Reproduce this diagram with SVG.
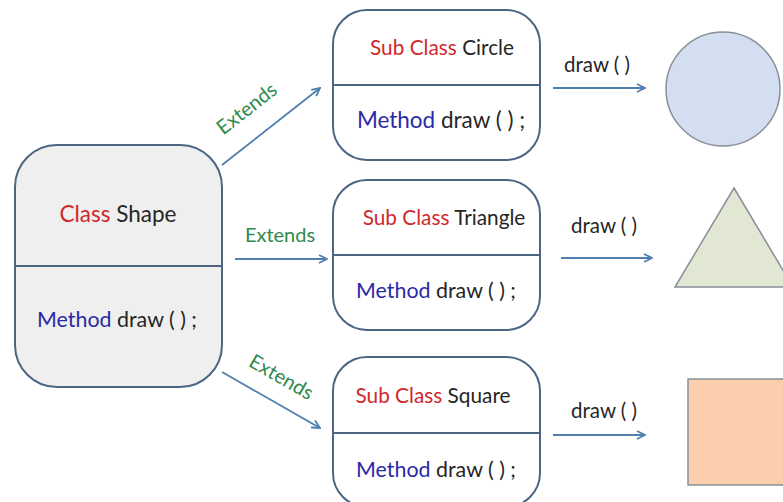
<svg xmlns="http://www.w3.org/2000/svg" width="783" height="502" viewBox="0 0 783 502">
  <style>
    text { font-family: Lato, "Open Sans", "Liberation Sans", sans-serif; fill: #262626; }
    .box { fill: #ffffff; stroke: #4b6583; stroke-width: 2; }
    .base { fill: #efefef; }
    .div { stroke: #4b6583; stroke-width: 2; }
    .t { font-size: 20.8px; text-anchor: middle; }
    .mt { font-size: 21.4px; text-anchor: middle; }
    .kw { fill: #d0282c; }
    .m { fill: #2a2aa6; }
    .ext { font-size: 20px; fill: #2f8a4c; text-anchor: middle; }
    .call { font-size: 20.5px; text-anchor: middle; }
    .link { stroke: #4f7fae; stroke-width: 1.8; fill: none; marker-end: url(#arr); }
    .shape { stroke: #8a8f97; stroke-width: 1.5; }
  </style>
  <defs>
    <marker id="arr" viewBox="0 0 10 10" refX="9" refY="5" markerWidth="10" markerHeight="10" markerUnits="userSpaceOnUse" orient="auto">
      <path d="M1,1 L9,5 L1,9" fill="none" stroke="#4f7fae" stroke-width="1.8"/>
    </marker>
  </defs>
  <rect width="783" height="502" fill="#ffffff"/>

  <!-- base class -->
  <g id="class-shape">
    <rect class="box base" x="15" y="145" width="207" height="242" rx="42"/>
    <line class="div" x1="15" y1="266" x2="222" y2="266"/>
    <text class="t" x="118" y="222" style="font-size:22.5px"><tspan class="kw">Class</tspan> Shape</text>
    <text class="mt" x="117" y="327"><tspan class="m">Method</tspan> draw ( ) ;</text>
  </g>

  <!-- sub classes -->
  <g id="sub-circle">
    <rect class="box" x="333" y="10" width="207" height="150" rx="34"/>
    <line class="div" x1="333" y1="85" x2="540" y2="85"/>
    <text class="t" x="442" y="55"><tspan class="kw">Sub Class</tspan> Circle</text>
    <text class="mt" x="441" y="128" style="font-size:22.5px"><tspan class="m">Method</tspan> draw ( ) ;</text>
  </g>
  <g id="sub-triangle">
    <rect class="box" x="333" y="180" width="207" height="150" rx="34"/>
    <line class="div" x1="333" y1="255" x2="540" y2="255"/>
    <text class="t" x="444" y="225"><tspan class="kw">Sub Class</tspan> Triangle</text>
    <text class="mt" x="436" y="298"><tspan class="m">Method</tspan> draw ( ) ;</text>
  </g>
  <g id="sub-square">
    <rect class="box" x="333" y="357" width="207" height="150" rx="34"/>
    <line class="div" x1="333" y1="433" x2="540" y2="433"/>
    <text class="t" x="433" y="403"><tspan class="kw">Sub Class</tspan> Square</text>
    <text class="mt" x="436" y="477"><tspan class="m">Method</tspan> draw ( ) ;</text>
  </g>

  <!-- drawn results -->
  <g id="circle">
    <circle class="shape" cx="723" cy="89" r="57" fill="#d3dff1"/>
  </g>
  <g id="triangle">
    <polygon class="shape" points="734,188 793,287 675,287" fill="#e2e7d4"/>
  </g>
  <g id="square">
    <rect class="shape" x="688" y="379" width="110" height="106" fill="#fbcead"/>
  </g>

  <!-- connectors -->
  <g id="connectors">
    <line class="link" x1="222" y1="165" x2="320" y2="88"/>
    <line class="link" x1="235" y1="259" x2="327" y2="259"/>
    <line class="link" x1="222" y1="372" x2="320" y2="428"/>
    <line class="link" x1="553" y1="88" x2="645" y2="88"/>
    <line class="link" x1="561" y1="258" x2="652" y2="258"/>
    <line class="link" x1="553" y1="435" x2="645" y2="435"/>
    <text class="ext" transform="translate(251,114) rotate(-38)">Extends</text>
    <text class="ext" x="280" y="242">Extends</text>
    <text class="ext" transform="translate(278,383) rotate(30)">Extends</text>
    <text class="call" x="597" y="72">draw ( )</text>
    <text class="call" x="604" y="233">draw ( )</text>
    <text class="call" x="604" y="418">draw ( )</text>
  </g>
</svg>
